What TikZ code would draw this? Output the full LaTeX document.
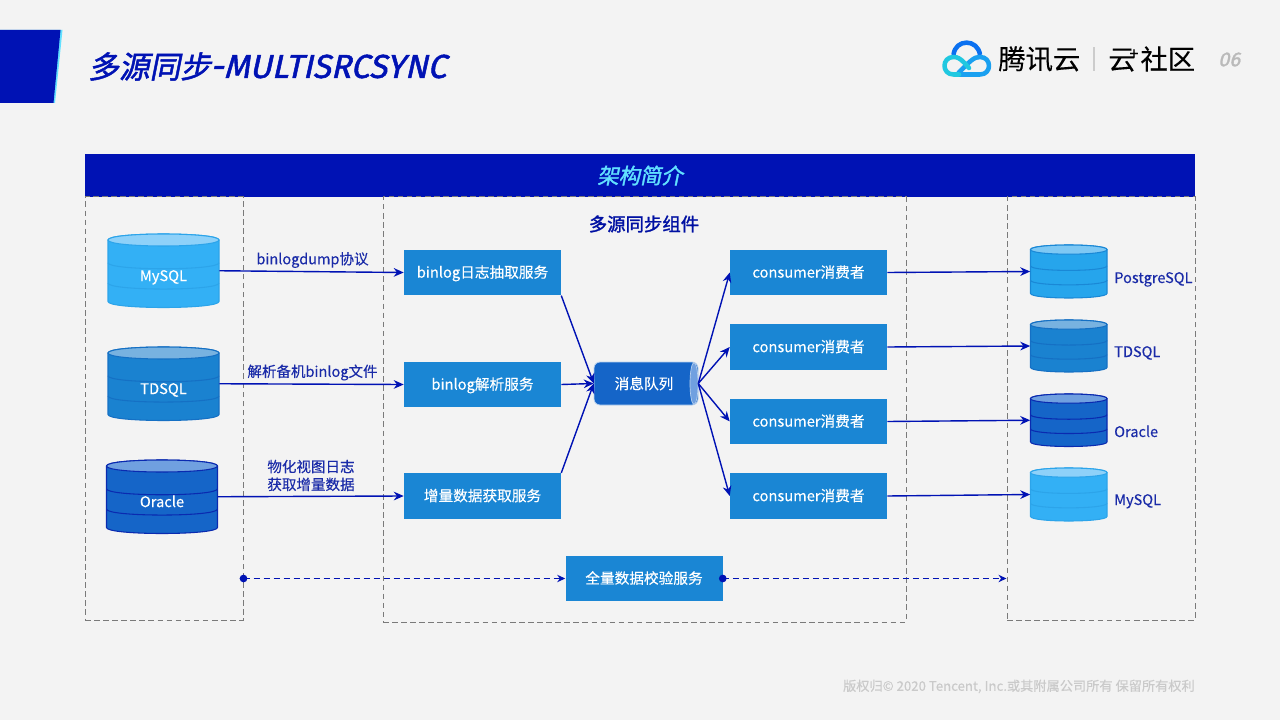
\documentclass[tikz,border=0pt]{standalone}
\usepackage{fontspec}
\usetikzlibrary{arrows.meta,calc}
\setmainfont[FakeBold=0.2]{Noto Sans CJK SC}
\newfontfamily\slantcjk[FakeSlant=0.2,FakeBold=1.6]{Noto Sans CJK SC}
\newfontfamily\slantlat[FakeSlant=0.22,FakeStretch=1.0,FakeBold=1.5]{Fira Sans}
\definecolor{bg}{HTML}{F3F3F3}
\definecolor{navy}{HTML}{0012B4}
\definecolor{labelblue}{HTML}{1A2BA8}
\definecolor{boxblue}{HTML}{1A86D4}
\definecolor{cyanedge}{HTML}{62E0FF}
\definecolor{dashgray}{HTML}{7A7A7A}
\definecolor{foot}{HTML}{CACACA}
\definecolor{srcMy}{HTML}{33B0F5}
\definecolor{lineMy}{HTML}{2CA4EA}
\definecolor{lidMy}{HTML}{8ED1F9}
\definecolor{srcTd}{HTML}{1A82D0}
\definecolor{lineTd}{HTML}{1570C4}
\definecolor{lidTd}{HTML}{78B2E0}
\definecolor{srcOr}{HTML}{1565C8}
\definecolor{lineOr}{HTML}{0A2AB0}
\definecolor{lidOr}{HTML}{70A0E0}
\definecolor{tgtPg}{HTML}{26A5EC}
\definecolor{linePg}{HTML}{1A88D6}
\definecolor{lidPg}{HTML}{7EC8F4}
\definecolor{qbody}{HTML}{1565C8}
\definecolor{qlid}{HTML}{70A0E0}
\definecolor{logotop}{HTML}{0A70F0}
\definecolor{logocyan}{HTML}{20C8E0}
\definecolor{logoblue}{HTML}{1AA0F0}
\tikzset{
  panel/.style={draw=dashgray,line width=0.75pt,inner sep=0pt,dash pattern=on 4.2pt off 2.6pt},
  svcbox/.style={fill=boxblue,text=white,inner sep=0pt,minimum width=117.75pt,minimum height=34.2pt,text height=10.1pt,text depth=2.4pt,font=\fontsize{11pt}{13pt}\selectfont},
  lbl/.style={text=labelblue,inner sep=0pt,align=center,font=\fontsize{10.9pt}{13.4pt}\selectfont},
  reflbl/.style={lbl,anchor=base west},
  link/.style={draw=navy,line width=1.05pt,-{Stealth[length=7.5pt,width=6.5pt]}},
  dashlink/.style={draw=navy,line width=1.2pt,dash pattern=on 4.5pt off 3pt,-{Stealth[length=6pt,width=5.5pt]}},
  dot/.style={circle,fill=navy,inner sep=0pt,minimum size=5.8pt},
  logoline/.style={line width=3.4pt,line cap=round,line join=round},
}
% name, left, top, width, height, ry, body, line, lid
\newcommand{\dbnode}[5]{%
  \node[inner sep=0pt,minimum width=#4*0.75pt,minimum height=#5*0.75pt,text=white,
        text height=16pt,text depth=0.5pt,
        font=\fontsize{11pt}{13pt}\selectfont] (#1) at ({#2+#4/2},{#3+#5/2}) {\dblabel};}
\newcommand{\dbc}[9]{%
  \begin{scope}[shift={(#2,#3)}]
    \pgfmathsetmacro\dbW{#4}\pgfmathsetmacro\dbH{#5}\pgfmathsetmacro\dbR{#6}
    \pgfmathsetmacro\dbC{\dbR*4/3}
    \pgfmathsetmacro\dbA{\dbR+(\dbH-2*\dbR)*0.37}
    \pgfmathsetmacro\dbB{\dbR+(\dbH-2*\dbR)*0.70}
    \pgfmathsetmacro\dbL{\dbH-\dbR}
    \path[fill=#7,draw=#8,line width=0.8pt]
      (0,\dbR) -- (0,\dbL) .. controls (0,\dbL+\dbC) and (\dbW,\dbL+\dbC) .. (\dbW,\dbL)
      -- (\dbW,\dbR) .. controls (\dbW,\dbR-\dbC) and (0,\dbR-\dbC) .. (0,\dbR) -- cycle;
    \path[draw=#8,line width=0.8pt] (0,\dbA) .. controls (0,\dbA+\dbC) and (\dbW,\dbA+\dbC) .. (\dbW,\dbA);
    \path[draw=#8,line width=0.8pt] (0,\dbB) .. controls (0,\dbB+\dbC) and (\dbW,\dbB+\dbC) .. (\dbW,\dbB);
    \path[fill=#9,draw=#8,line width=0.8pt]
      (0,\dbR) .. controls (0,\dbR+\dbC) and (\dbW,\dbR+\dbC) .. (\dbW,\dbR)
      .. controls (\dbW,\dbR-\dbC) and (0,\dbR-\dbC) .. (0,\dbR) -- cycle;
  \end{scope}
  \dbnode{#1}{#2}{#3}{#4}{#5}}
\begin{document}
\begin{tikzpicture}[x=0.75pt,y=-0.75pt]
\useasboundingbox (0,0) rectangle (1280,720);
\fill[bg] (0,0) rectangle (1280,720);

% corner block
\fill[cyanedge] (0,30) -- (62.5,30) -- (55,103) -- (0,103) -- cycle;
\fill[navy] (0,30) -- (60.5,30) -- (53.5,103) -- (0,103) -- cycle;

% title
\node[anchor=west,inner sep=0pt,text=navy] (titlecjk) at (88,66.5)
  {\fontsize{23pt}{26pt}\slantcjk 多源同步};
\node[anchor=west,inner sep=0pt,text=navy] (titlelat) at (210,66.5)
  {\fontsize{25pt}{28pt}\slantlat -MULTISRCSYNC};

% logo
\draw[logoline,logotop,line cap=butt] (953.5,55) .. controls (955,38.5) and (978,38.5) .. (980,55);
\draw[logoline,logoblue]
  (957,74.5) -- (980,74.5) .. controls (992,74.5) and (992,57) .. (980,57)
  .. controls (974,57) and (971,60) .. (957,74.5);
\draw[logoline,logocyan]
  (969,68) -- (964,62.5) .. controls (960,58.5) and (957.5,57) .. (953.5,57)
  .. controls (941.5,57) and (941.5,74.5) .. (953.5,74.5) -- (959,74.5);

\node[anchor=west,inner sep=0pt,text=black] (brand) at (998,59) {\fontsize{20.5pt}{24pt}\selectfont 腾讯云};
\fill[black!20] (1093,47) rectangle (1095,71);
\node[anchor=west,inner sep=0pt,text=black] (community) at (1108,59)
  {\fontsize{20.5pt}{24pt}\selectfont 云\hspace{-4.5pt}\raisebox{7.5pt}{\fontsize{12pt}{13pt}\selectfont +}\hspace{1.5pt}社区};
\node[anchor=west,inner sep=0pt,text=black!27] (pagenum) at (1218,59.5) {\fontsize{15pt}{16pt}\slantlat 06};

% banner
\node[fill=navy,inner sep=0pt,minimum width=832.5pt,minimum height=32.25pt] (banner) at (640,175.5) {};
\node[inner sep=0pt,text=cyanedge] (bannertext) at (640,175.5) {\fontsize{16pt}{18pt}\slantcjk 架构简介};

% panels
\node[panel,minimum width=118.5pt,minimum height=317.25pt] (pleft) at (164,408.5) {};
\node[panel,minimum width=392.25pt,minimum height=318.75pt] (pmid) at (644.5,409.5) {};
\node[panel,minimum width=141pt,minimum height=317.25pt] (pright) at (1101,408.5) {};
\node[inner sep=0pt,text=navy!90!black] (midtitle) at (644,224) {\fontsize{13.8pt}{16pt}\selectfont\addfontfeature{FakeBold=1.6}多源同步组件};

% source databases
\def\dblabel{MySQL}
\dbc{srcmysql}{108}{234}{111}{73.5}{6}{srcMy}{lineMy}{lidMy}
\def\dblabel{TDSQL}
\dbc{srctd}{108}{347}{111}{73.5}{6}{srcTd}{lineTd}{lidTd}
\def\dblabel{Oracle}
\dbc{srcora}{106.5}{460}{111}{73.5}{6}{srcOr}{lineOr}{lidOr}

% target databases
\def\dblabel{}
\dbc{dstpg}{1030.5}{245}{76.5}{53}{4.6}{tgtPg}{linePg}{lidPg}
\dbc{dsttd}{1030.5}{320}{76.5}{52}{4.6}{srcTd}{lineTd}{lidTd}
\dbc{dstora}{1030.5}{394}{76.5}{52.5}{4.6}{srcOr}{lineOr}{lidOr}
\dbc{dstmy}{1030.5}{468}{76.5}{53}{4.6}{srcMy}{lineMy}{lidMy}
\node[reflbl] (tpg) at (1114,283) {PostgreSQL};
\node[reflbl] (ttd) at (1114,357) {TDSQL};
\node[reflbl] (tor) at (1114,437) {Oracle};
\node[reflbl] (tmy) at (1114,505) {MySQL};

% services
\node[svcbox] (s1) at (482.5,272.5) {binlog日志抽取服务};
\node[svcbox] (s2) at (482.5,384.5) {binlog解析服务};
\node[svcbox] (s3) at (482.5,496) {增量数据获取服务};
\node[svcbox] (c1) at (808.5,272.5) {consumer消费者};
\node[svcbox] (c2) at (808.5,347) {consumer消费者};
\node[svcbox] (c3) at (808.5,421.5) {consumer消费者};
\node[svcbox] (c4) at (808.5,496) {consumer消费者};
\node[svcbox] (chk) at (644,578.5) {全量数据校验服务};

% queue
\fill[qbody,draw=white!70!qbody,line width=0.6pt,rounded corners=4.5pt]
  (594,362) rectangle (698,405);
\draw[fill=qlid,draw=white!70!qbody,line width=0.5pt] (694,383.5) ellipse [x radius=4,y radius=21];
\node[inner sep=0pt,minimum width=78pt,minimum height=32.25pt,text=white,font=\fontsize{11pt}{13pt}\selectfont] (queue) at (646,383.5) {\hspace{-3pt}消息队列};

% left connectors
\draw[link] (srcmysql.east) -- (s1.west);
\draw[link] (srctd.east) -- (s2.west);
\draw[link] (srcora.east) -- (s3.west);
\node[lbl] (l1) at (312.5,260) {binlogdump协议};
\node[lbl] (l2) at (312.5,372.5) {解析备机binlog文件};
\node[lbl] (l3) at (311,475.5) {物化视图日志\\获取增量数据};

% queue connectors
\draw[link] (s1.south east) -- (queue.west);
\draw[link] (s2.east) -- (queue.west);
\draw[link] (s3.north east) -- (queue.west);
\draw[link] (queue.east) -- (c1.west);
\draw[link] (queue.east) -- (c2.west);
\draw[link] (queue.east) -- (c3.west);
\draw[link] (queue.east) -- (c4.west);

% right connectors
\draw[link] (c1.east) -- (dstpg.west);
\draw[link] (c2.east) -- (dsttd.west);
\draw[link] (c3.east) -- (dstora.west);
\draw[link] (c4.east) -- (dstmy.west);

% check flow
\coordinate (dl) at (pleft.east |- chk.west);
\coordinate (dr) at (pright.west |- chk.east);
\draw[dashlink] (dl) -- (chk.west);
\draw[dashlink] (chk.east) -- (dr);
\node[dot] (dotl) at (dl) {};
\node[dot] (dotr) at (chk.east) {};

% footer
\node[anchor=east,inner sep=0pt,text=foot] (footer) at (1195,686.5) {\fontsize{9.9pt}{12pt}\selectfont 版权归© 2020 Tencent, Inc.或其附属公司所有 保留所有权利};
\end{tikzpicture}
\end{document}
